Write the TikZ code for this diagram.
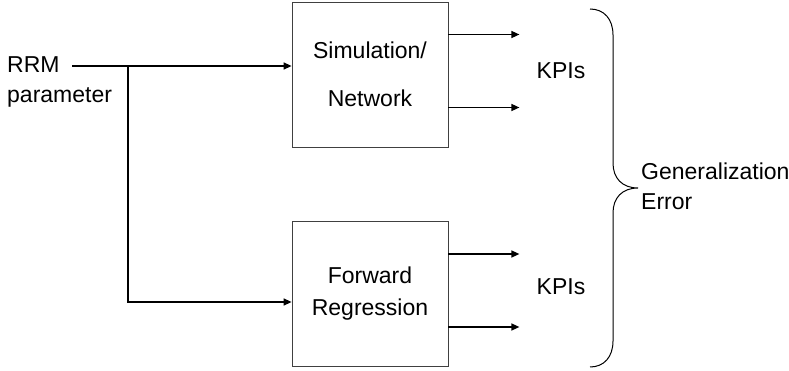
\documentclass[tikz,border=0pt]{standalone}
\usepackage{fontspec}
\setmainfont{Liberation Sans}
\usetikzlibrary{arrows.meta,positioning}

\begin{document}
\begin{tikzpicture}[
  x=1pt, y=-1pt,
  box/.style={
    draw=black!75,
    line width=0.8pt,
    minimum width=156pt,
    minimum height=145pt,
    align=center,
    font=\fontsize{23}{32}\selectfont
  },
  lbl/.style={inner sep=0pt, align=left, font=\fontsize{23}{30}\selectfont},
  arrow/.style={-{Triangle[length=8pt,width=7pt]}, line width=1.4pt}
]
  \useasboundingbox (0,0) rectangle (789,371);
  \node[box] (sim) at (370,74.5) {Simulation/\\[16pt]Network};
  \node[box] (fwd) at (370,294) {Forward\\Regression};
  \node[lbl, anchor=north west] (param) at (7,56) {RRM\\parameter};
  \coordinate (in) at (72,66);
  \coordinate (branch) at (128,66);
  \draw[arrow] (in) -- (in -| sim.west);
  \draw[arrow] (branch) |- ([yshift=-8pt]fwd.west);
  % outputs of both boxes
  \foreach \b in {sim,fwd} {
    \coordinate (hi\b) at ([shift={(71pt,40pt)}]\b.east);
    \coordinate (lo\b) at ([shift={(71pt,-33pt)}]\b.east);
    \draw[arrow] (hi\b -| \b.east) -- (hi\b);
    \draw[arrow] (lo\b -| \b.east) -- (lo\b);
  }
  \node[lbl] (kpiA) at (561,71) {KPIs};
  \node[lbl] (kpiB) at (561,287) {KPIs};
  \draw[line width=1pt] (590,9) .. controls (604,9) and (613,19) .. (613,35) -- (613,163)
    .. controls (613,178) and (622,188) .. (638,188) .. controls (622,188) and (613,198) .. (613,213)
    -- (613,341) .. controls (613,357) and (604,367) .. (590,367);
  \node[lbl, anchor=west, font=\fontsize{23}{30}\selectfont] (generr) at (641,186)
    {Generalization\\Error};
\end{tikzpicture}
\end{document}
